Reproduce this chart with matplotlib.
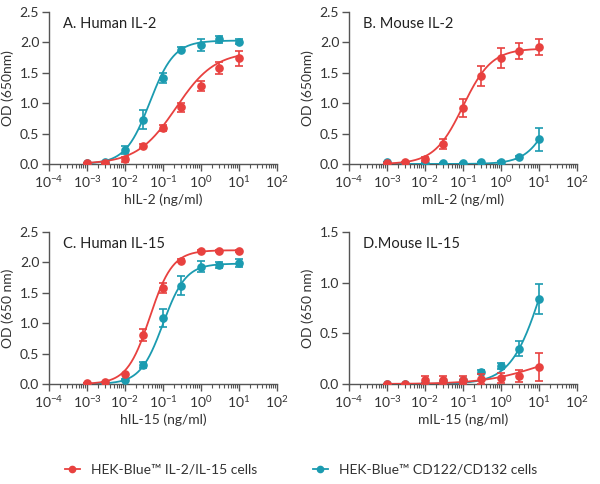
import numpy as np
import matplotlib
matplotlib.use("Agg")
import matplotlib.pyplot as plt
from matplotlib.lines import Line2D
from matplotlib.ticker import LogLocator, NullFormatter, FixedLocator

plt.rcParams['font.family'] = ['Lato', 'DejaVu Sans']
plt.rcParams['mathtext.fontset'] = 'custom'
plt.rcParams['mathtext.rm'] = 'Lato'
plt.rcParams['mathtext.it'] = 'Lato'

RED = '#e8413f'
BLUE = '#1b9bb0'
GREY = '#555555'

conc = [0.001, 0.003, 0.01, 0.03, 0.1, 0.3, 1, 3, 10]

# A. Human IL-2
a_red = [0.01, 0.01, 0.08, 0.30, 0.59, 0.93, 1.28, 1.58, 1.74]
a_red_err = [0.0, 0.0, 0.04, 0.03, 0.05, 0.07, 0.08, 0.10, 0.12]
a_blue = [0.01, 0.03, 0.23, 0.73, 1.41, 1.88, 1.96, 2.05, 2.01]
a_blue_err = [0.0, 0.0, 0.06, 0.16, 0.08, 0.04, 0.10, 0.06, 0.04]

# B. Mouse IL-2
b_red = [0.01, 0.04, 0.08, 0.33, 0.92, 1.45, 1.74, 1.86, 1.92]
b_red_err = [0.0, 0.0, 0.03, 0.08, 0.15, 0.17, 0.16, 0.13, 0.13]
b_blue = [0.04, 0.02, 0.01, 0.02, 0.02, 0.03, 0.04, 0.11, 0.41]
b_blue_err = [0.0, 0.0, 0.0, 0.0, 0.0, 0.0, 0.01, 0.02, 0.19]

# C. Human IL-15
c_red = [0.01, 0.03, 0.17, 0.81, 1.58, 2.03, 2.19, 2.19, 2.19]
c_red_err = [0.0, 0.0, 0.0, 0.10, 0.08, 0.02, 0.02, 0.02, 0.02]
c_blue = [0.00, 0.01, 0.07, 0.31, 1.09, 1.62, 1.93, 1.95, 1.99]
c_blue_err = [0.0, 0.0, 0.02, 0.05, 0.15, 0.15, 0.09, 0.05, 0.06]

# D. Mouse IL-15
d_red = [0.00, 0.00, 0.04, 0.04, 0.04, 0.05, 0.06, 0.08, 0.17]
d_red_err = [0.0, 0.0, 0.04, 0.04, 0.04, 0.05, 0.05, 0.06, 0.14]
d_blue = [0.00, 0.00, 0.01, 0.03, 0.04, 0.12, 0.18, 0.35, 0.84]
d_blue_err = [0.0, 0.0, 0.0, 0.0, 0.0, 0.02, 0.03, 0.07, 0.15]

# 4PL fit parameters: bottom, top, ec50, hill
a_red_fit = [0.0, 1.85, 0.22, 0.85]
a_blue_fit = [0.0, 2.03, 0.045, 1.35]
b_red_fit = [0.0, 1.90, 0.10, 1.15]
b_blue_fit = [0.0, 2.0, 30.0, 1.24]
c_red_fit = [0.0, 2.20, 0.045, 1.45]
c_blue_fit = [0.0, 1.98, 0.10, 1.45]
d_red_fit = [0.0, 0.35, 10.0, 0.6]
d_blue_fit = [0.0, 2.0, 13.6, 1.03]

titles = ['A. Human IL-2', 'B. Mouse IL-2', 'C. Human IL-15', 'D.Mouse IL-15']
xlabels = ['hIL-2 (ng/ml)', 'mIL-2 (ng/ml)', 'hIL-15 (ng/ml)', 'mIL-15 (ng/ml)']
ylabels = ['OD (650nm)', 'OD (650nm)', 'OD (650 nm)', 'OD (650 nm)']
legend_labels = ['HEK-Blue™ IL-2/IL-15 cells', 'HEK-Blue™ CD122/CD132 cells']
ymax = [2.5, 2.5, 2.5, 1.5]
ystep = [0.5, 0.5, 0.5, 0.5]

panels = [
    (a_red, a_red_err, a_red_fit, a_blue, a_blue_err, a_blue_fit),
    (b_red, b_red_err, b_red_fit, b_blue, b_blue_err, b_blue_fit),
    (c_red, c_red_err, c_red_fit, c_blue, c_blue_err, c_blue_fit),
    (d_red, d_red_err, d_red_fit, d_blue, d_blue_err, d_blue_fit),
]

# axes rectangles in pixels: left, top, right, bottom
boxes = [(49, 12, 277, 164), (349, 12, 577, 164),
         (49, 232, 277, 384), (349, 232, 577, 384)]


def fourpl(x, p):
    bottom, top, ec50, hill = p
    return bottom + (top - bottom) / (1 + (ec50 / x) ** hill)


W, H = 600, 484
fig = plt.figure(figsize=(W / 100, H / 100), dpi=100)

xs = np.logspace(-3, 1, 200)
for k in range(4):
    l, t, r, b = boxes[k]
    ax = fig.add_axes([l / W, 1 - b / H, (r - l) / W, (b - t) / H])
    red, red_err, red_fit, blue, blue_err, blue_fit = panels[k]

    ax.plot(xs, fourpl(xs, blue_fit), color=BLUE, lw=1.3, zorder=2)
    ax.errorbar(conc, blue, yerr=blue_err, fmt='o', color=BLUE, ms=5.2,
                elinewidth=1.2, capsize=3, capthick=1.2, zorder=3)
    ax.plot(xs, fourpl(xs, red_fit), color=RED, lw=1.3, zorder=4)
    ax.errorbar(conc, red, yerr=red_err, fmt='o', color=RED, ms=5.2,
                elinewidth=1.2, capsize=3, capthick=1.2, zorder=5)

    ax.set_xscale('log')
    ax.set_xlim(1e-4, 1e2)
    ax.set_ylim(0, ymax[k])
    ax.xaxis.set_major_locator(FixedLocator([10.0 ** e for e in range(-4, 3)]))
    ax.set_xticklabels([r'$\mathregular{10^{%d}}$' % e for e in range(-4, 3)])
    ax.xaxis.set_minor_locator(LogLocator(base=10, subs=np.arange(2, 10), numticks=20))
    ax.xaxis.set_minor_formatter(NullFormatter())
    ax.set_yticks(np.arange(0, ymax[k] + 0.01, ystep[k]))
    ax.set_yticklabels(['%.1f' % v for v in np.arange(0, ymax[k] + 0.01, ystep[k])])

    for s in ['top', 'right']:
        ax.spines[s].set_visible(False)
    for s in ['left', 'bottom']:
        ax.spines[s].set_color(GREY)
        ax.spines[s].set_linewidth(1.0)
        ax.spines[s].set_zorder(1)
    ax.tick_params(which='major', length=5, width=1.0, color=GREY,
                   labelsize=10, labelcolor='#333333', pad=2)
    ax.tick_params(which='minor', length=3, width=0.8, color=GREY)

    ax.set_xlabel(xlabels[k], fontsize=10, color='#333333', labelpad=3)
    ax.set_ylabel(ylabels[k], fontsize=10, color='#333333', labelpad=4)
    ax.text(0.06, 0.92, titles[k], transform=ax.transAxes, fontsize=10.5,
            color='#222222', va='center', ha='left')

handles = [Line2D([], [], color=RED, marker='o', ms=4.5, lw=1.3),
           Line2D([], [], color=BLUE, marker='o', ms=4.5, lw=1.3)]
fig.legend(handles, legend_labels,
           loc='center', bbox_to_anchor=(301 / W, 1 - 470 / H), ncol=2, frameon=False,
           fontsize=10, handlelength=1.1, handletextpad=0.8, columnspacing=4,
           labelcolor='#333333')

fig.savefig('out.png', dpi=100)
